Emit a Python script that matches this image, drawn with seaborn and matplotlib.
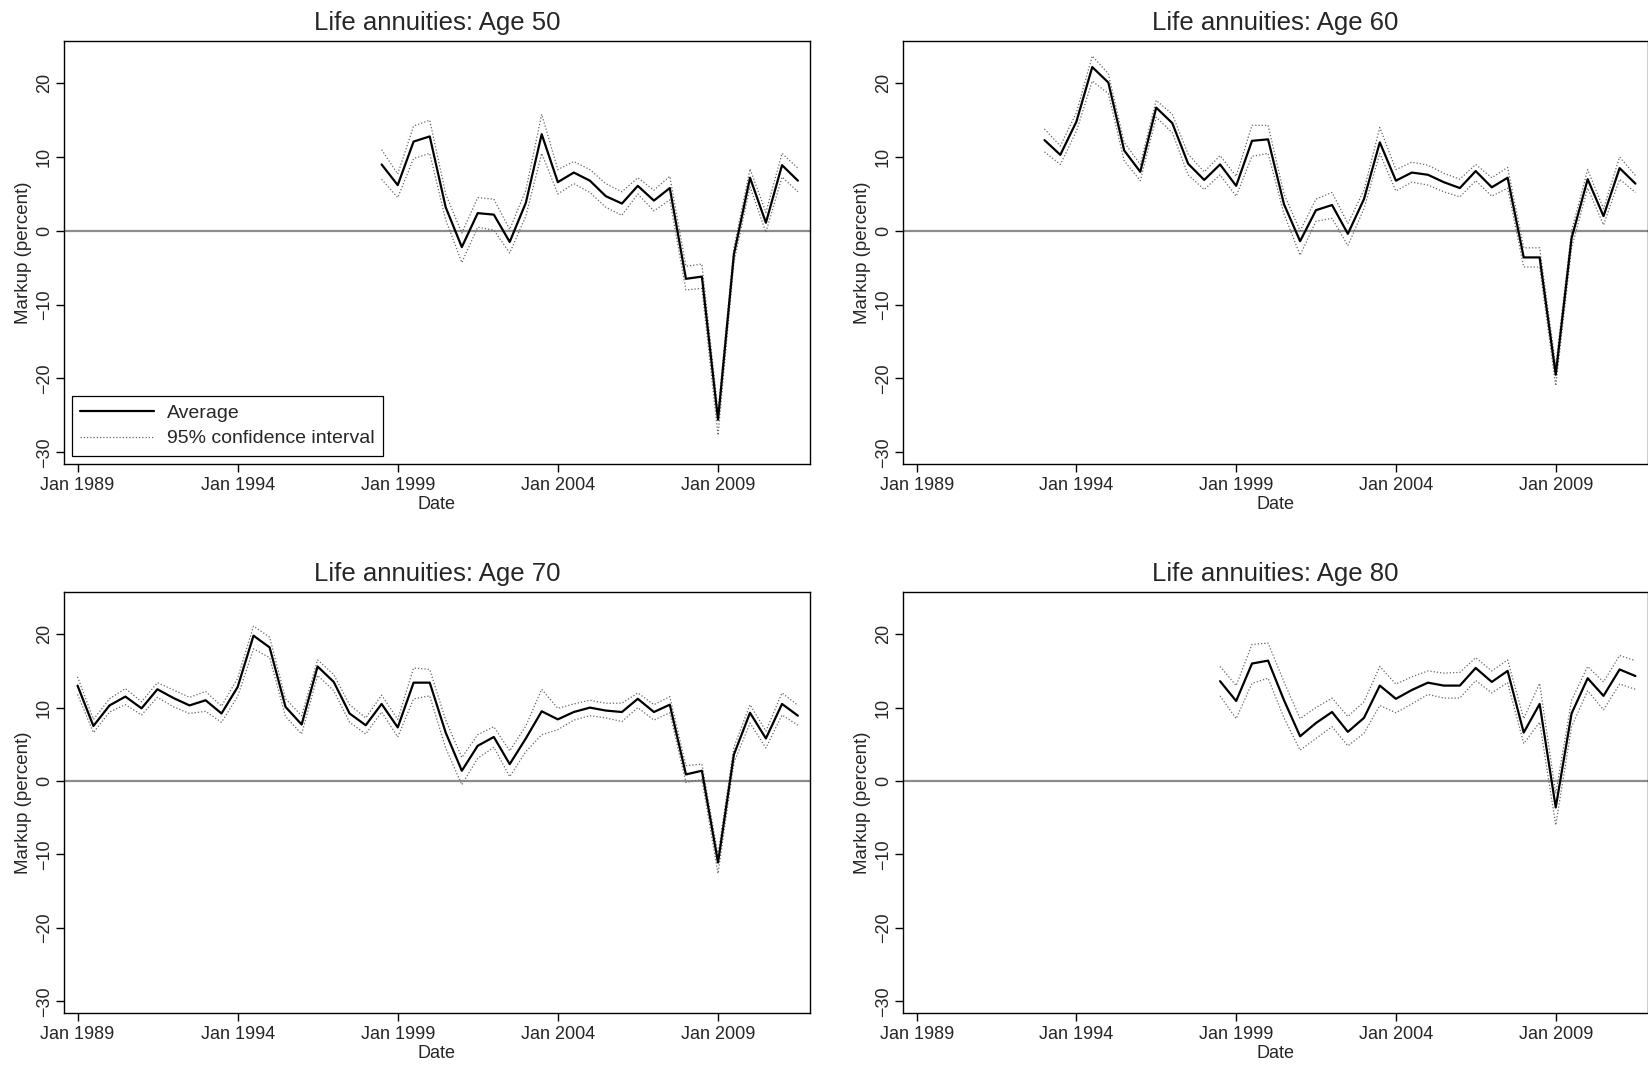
import pandas as pd
import matplotlib
matplotlib.use("Agg")
import matplotlib.pyplot as plt
import matplotlib.dates as mdates
import seaborn as sns

# Markup (percent), semiannual observations (Jan / Jul)
start50 = "1998-07-01"
avg50 = [9.0, 6.2, 12.1, 12.8, 3.2, -2.2, 2.4, 2.2, -1.5, 3.8, 13.1, 6.6, 7.9, 6.8,
         4.7, 3.7, 6.1, 4.1, 5.8, -6.5, -6.2, -25.6, -3.2, 7.2, 1.1, 8.9, 6.8]
up50 = [11.0, 7.7, 14.2, 15.0, 5.0, -0.3, 4.5, 4.3, 0.2, 5.5, 15.8, 8.3, 9.4, 8.3,
        6.4, 5.3, 7.2, 5.5, 7.4, -4.8, -4.5, -24.5, -2.3, 8.4, 2.5, 10.5, 8.5]
lo50 = [7.0, 4.5, 9.8, 10.5, 1.5, -4.3, 0.5, 0.1, -3.0, 2.0, 10.5, 5.0, 6.4, 5.2,
        3.2, 2.1, 5.0, 2.7, 4.2, -8.0, -7.8, -27.7, -4.3, 6.0, -0.2, 7.3, 5.3]

start60 = "1993-01-01"
avg60 = [12.3, 10.3, 14.8, 22.2, 20.1, 10.9, 8.0, 16.7, 14.6, 9.1, 6.9, 9.0, 6.1,
         12.2, 12.4, 3.6, -1.4, 2.8, 3.5, -0.4, 4.3, 12.0, 6.8, 7.9, 7.6, 6.6, 5.8,
         8.1, 5.9, 7.2, -3.6, -3.6, -19.5, -1.0, 7.0, 2.0, 8.5, 6.4]
up60 = [13.8, 11.5, 16.0, 23.7, 21.3, 12.0, 9.0, 17.7, 15.8, 10.4, 8.0, 10.2, 7.4,
        14.3, 14.3, 5.0, 0.0, 4.3, 5.2, 1.0, 5.5, 14.0, 8.3, 9.3, 8.9, 7.8, 7.0,
        9.0, 7.2, 8.6, -2.3, -2.3, -18.3, 0.0, 8.3, 3.0, 10.0, 7.5]
lo60 = [10.7, 9.0, 13.5, 20.3, 18.6, 9.5, 6.8, 15.4, 13.3, 7.6, 5.6, 7.6, 4.7,
        10.1, 10.5, 2.3, -3.3, 1.3, 1.7, -2.0, 3.0, 10.5, 5.4, 6.6, 6.2, 5.3, 4.6,
        6.8, 4.7, 5.8, -4.9, -4.9, -21.0, -2.3, 5.8, 0.8, 7.0, 5.2]

start70 = "1989-01-01"
avg70 = [13.0, 7.5, 10.3, 11.5, 9.9, 12.5, 11.3, 10.3, 11.0, 9.2, 12.8, 19.8, 18.2,
         10.1, 7.7, 15.6, 13.5, 9.2, 7.6, 10.5, 7.3, 13.4, 13.4, 6.6, 1.4, 4.8, 6.0,
         2.3, 5.8, 9.5, 8.4, 9.4, 10.0, 9.6, 9.4, 11.2, 9.4, 10.4, 0.9, 1.4, -11.1,
         3.6, 9.3, 5.8, 10.5, 8.9]
up70 = [14.2, 8.4, 11.2, 12.6, 10.8, 13.4, 12.4, 11.4, 12.2, 10.2, 14.0, 21.1, 19.6,
        11.2, 8.9, 16.5, 14.5, 10.4, 8.6, 11.7, 8.4, 15.4, 15.2, 8.3, 3.2, 6.3, 7.4,
        4.1, 7.5, 12.5, 9.9, 10.5, 11.0, 10.6, 10.6, 12.0, 10.4, 11.5, 2.1, 2.3, -10.0,
        4.6, 10.4, 6.8, 12.0, 10.3]
lo70 = [11.8, 6.6, 9.4, 10.4, 9.0, 11.4, 10.1, 9.2, 9.5, 8.0, 11.5, 18.0, 16.8,
        8.8, 6.4, 14.4, 12.3, 8.0, 6.4, 9.4, 6.0, 11.2, 11.6, 4.5, -0.5, 3.1, 4.6,
        0.6, 4.0, 6.3, 7.0, 8.3, 8.9, 8.6, 8.1, 10.0, 8.3, 9.3, -0.2, 0.2, -12.6,
        2.5, 7.9, 4.5, 9.0, 7.6]

start80 = "1998-07-01"
avg80 = [13.6, 10.9, 16.0, 16.4, 11.0, 6.1, 7.9, 9.4, 6.7, 8.6, 13.0, 11.2, 12.4, 13.4,
         13.0, 13.0, 15.4, 13.5, 15.0, 6.6, 10.5, -3.6, 9.2, 14.0, 11.6, 15.2, 14.3]
up80 = [15.6, 13.0, 18.6, 18.8, 13.5, 8.5, 10.0, 11.3, 8.8, 10.8, 15.6, 13.2, 14.2, 15.0,
        14.7, 14.8, 16.8, 15.0, 16.5, 8.5, 13.3, -1.7, 11.0, 15.6, 13.5, 17.1, 16.4]
lo80 = [11.6, 8.5, 13.3, 14.0, 8.6, 4.2, 5.8, 7.4, 4.8, 6.5, 10.3, 9.3, 10.5, 11.8,
        11.3, 11.3, 13.7, 12.0, 13.4, 5.1, 8.0, -6.0, 7.4, 12.3, 9.7, 13.2, 12.5]

panels = [
    ("Life annuities: Age 50", start50, avg50, up50, lo50),
    ("Life annuities: Age 60", start60, avg60, up60, lo60),
    ("Life annuities: Age 70", start70, avg70, up70, lo70),
    ("Life annuities: Age 80", start80, avg80, up80, lo80),
]

tick_years = [1989, 1994, 1999, 2004, 2009]
y_ticks = [-30, -20, -10, 0, 10, 20]

sns.set_style("ticks")
plt.rcParams["font.family"] = ["Liberation Sans", "DejaVu Sans"]

fig = plt.figure(figsize=(16.48, 10.65), dpi=100)
positions = [
    [0.0388, 0.5643, 0.4527, 0.397],
    [0.548, 0.5643, 0.4517, 0.397],
    [0.0388, 0.0488, 0.4527, 0.395],
    [0.548, 0.0488, 0.4517, 0.395],
]

for i, (title, start, avg, up, lo) in enumerate(panels):
    ax = fig.add_axes(positions[i])
    df = pd.DataFrame({
        "Date": pd.date_range(start, periods=len(avg), freq="6MS"),
        "avg": avg, "up": up, "lo": lo,
    })
    ax.axhline(0, color="#8c8c8c", lw=1.6, zorder=1)
    sns.lineplot(data=df, x="Date", y="up", ax=ax, color="#666666", lw=0.9,
                 linestyle=(0, (1, 1.6)), label="95% confidence interval" if i == 0 else None)
    sns.lineplot(data=df, x="Date", y="lo", ax=ax, color="#666666", lw=0.9,
                 linestyle=(0, (1, 1.6)))
    sns.lineplot(data=df, x="Date", y="avg", ax=ax, color="black", lw=1.6,
                 label="Average" if i == 0 else None)

    ax.set_xlim(pd.Timestamp("1988-07-30"), pd.Timestamp("2011-11-16"))
    ax.set_ylim(-31.6, 25.7)
    ax.set_xticks([pd.Timestamp(f"{y}-01-01") for y in tick_years])
    ax.xaxis.set_major_formatter(mdates.DateFormatter("Jan %Y"))
    ax.set_yticks(y_ticks)
    ax.set_yticklabels([str(v).replace("-", "\u2212") for v in y_ticks],
                       rotation=90, va="center")
    ax.tick_params(axis="both", labelsize=13, length=6, width=1, color="black")
    ax.tick_params(axis="x", pad=3)
    ax.tick_params(axis="y", pad=2)
    for sp in ax.spines.values():
        sp.set_color("black")
        sp.set_linewidth(1.0)
    ax.set_title(title, fontsize=18.5, pad=8)
    ax.set_xlabel("Date", fontsize=13, labelpad=1.5)
    ax.set_ylabel("Markup (percent)", fontsize=13.5, labelpad=3)

    if i == 0:
        h, l = ax.get_legend_handles_labels()
        order = [l.index("Average"), l.index("95% confidence interval")]
        leg = ax.legend([h[k] for k in order], [l[k] for k in order],
                        loc="lower left", fontsize=14, frameon=True, fancybox=False,
                        edgecolor="black", framealpha=1, handlelength=3.8,
                        handletextpad=0.65, labelspacing=0.4, borderaxespad=0.4,
                        borderpad=0.45)
        leg.get_frame().set_linewidth(0.9)
    else:
        lg = ax.get_legend()
        if lg is not None:
            lg.remove()

fig.savefig("out.png", dpi=100)
